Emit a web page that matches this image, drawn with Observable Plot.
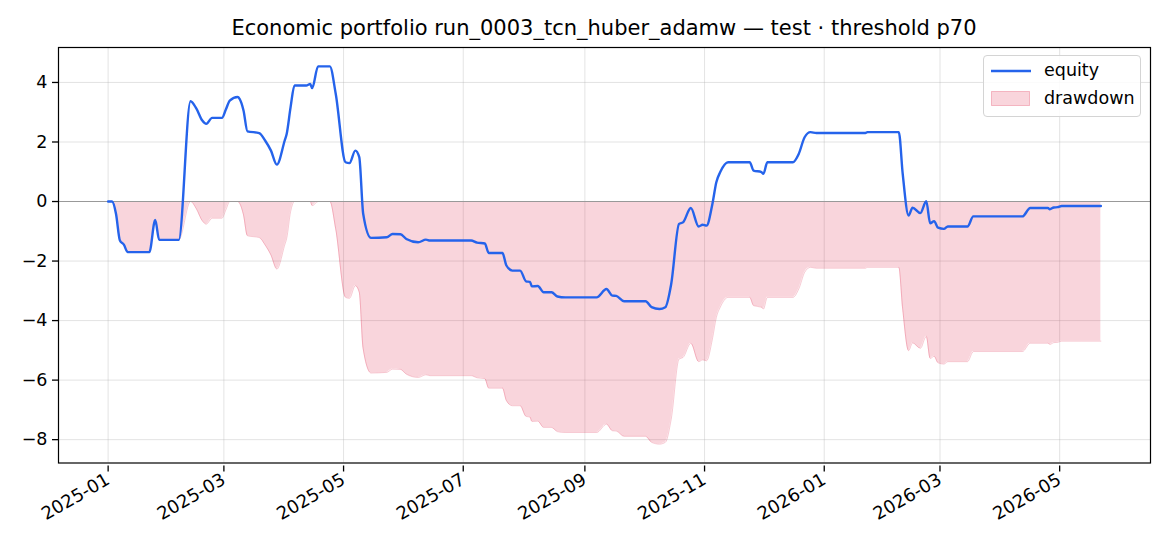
<!DOCTYPE html>
<html>
<head>
<meta charset="utf-8">
<script src="https://cdn.jsdelivr.net/npm/d3@7"></script>
<script src="https://cdn.jsdelivr.net/npm/@observablehq/plot@0.6"></script>
<style>
  html, body { margin: 0; padding: 0; background: #fff; }
  #wrap { position: relative; width: 1170px; height: 546px; font-family: "DejaVu Sans", sans-serif; overflow: hidden; }
  #title { position: absolute; top: 16px; left: 58px; width: 1092px; text-align: center; font-size: 21px; color: #000; white-space: nowrap; }
  #chart { position: absolute; top: 40px; left: 0; }
  #legend { position: absolute; left: 983px; top: 55px; width: 156px; height: 60px; border: 1px solid #d4d4d4; border-radius: 4px; background: rgba(255,255,255,0.85); font-size: 17.5px; }
  #legend .row { position: absolute; left: 7px; display: flex; align-items: center; }
  #legend .lbl { margin-left: 13px; }
</style>
</head>
<body>
<div id="wrap">
  <div id="title">Economic portfolio run_0003_tcn_huber_adamw — test · threshold p70</div>
  <div id="chart"></div>
  <div id="legend">
    <div class="row" style="top:3px"><svg width="40" height="22"><line x1="0" x2="40" y1="12" y2="12" stroke="#2563eb" stroke-width="2.4"/></svg><span class="lbl">equity</span></div>
    <div class="row" style="top:31px"><svg width="40" height="22"><rect x="0.5" y="4.5" width="38" height="14" fill="crimson" fill-opacity="0.18" stroke="crimson" stroke-opacity="0.25"/></svg><span class="lbl">drawdown</span></div>
  </div>
</div>
<script>
const dates = [
"2025-01-01","2025-01-03","2025-01-05","2025-01-07","2025-01-09","2025-01-11","2025-01-22","2025-01-25","2025-01-27","2025-02-06",
"2025-02-12","2025-02-15","2025-02-18","2025-02-20","2025-02-23","2025-02-28","2025-03-02","2025-03-04","2025-03-08","2025-03-09",
"2025-03-11","2025-03-13","2025-03-19","2025-03-22","2025-03-25","2025-03-28","2025-04-01","2025-04-02","2025-04-04","2025-04-06",
"2025-04-12","2025-04-14","2025-04-15","2025-04-18","2025-04-24","2025-04-27","2025-05-02","2025-05-04","2025-05-07","2025-05-09",
"2025-05-11","2025-05-15","2025-05-23","2025-05-26","2025-05-30","2025-06-02","2025-06-08","2025-06-12","2025-06-14","2025-07-05",
"2025-07-08","2025-07-12","2025-07-14","2025-07-21","2025-07-23","2025-07-26","2025-07-30","2025-08-02","2025-08-04","2025-08-05",
"2025-08-08","2025-08-11","2025-08-15","2025-08-18","2025-08-22","2025-09-07","2025-09-12","2025-09-15","2025-09-17","2025-09-21",
"2025-10-02","2025-10-05","2025-10-09","2025-10-12","2025-10-15","2025-10-19","2025-10-21","2025-10-25","2025-10-29","2025-10-31",
"2025-11-02","2025-11-05","2025-11-07","2025-11-09","2025-11-13","2025-11-24","2025-11-26","2025-11-30","2025-12-01","2025-12-03",
"2025-12-16","2025-12-19","2025-12-22","2025-12-25","2025-12-28","2026-01-22","2026-01-23","2026-02-08","2026-02-10","2026-02-13",
"2026-02-15","2026-02-19","2026-02-22","2026-02-24","2026-02-26","2026-02-28","2026-03-03","2026-03-05","2026-03-15","2026-03-18",
"2026-04-12","2026-04-16","2026-04-25","2026-04-26","2026-04-28","2026-04-30","2026-05-02","2026-05-22"];

const equity = [
0, 0, -0.41, -1.31, -1.45, -1.70, -1.70, -0.62, -1.29, -1.29,
3.37, 3.12, 2.72, 2.61, 2.81, 2.81, 3.09, 3.39, 3.51, 3.45,
3.06, 2.36, 2.30, 2.05, 1.71, 1.24, 2.05, 2.27, 3.17, 3.90,
3.90, 3.95, 3.81, 4.54, 4.54, 3.62, 1.32, 1.29, 1.71, 1.49,
-0.41, -1.22, -1.20, -1.09, -1.10, -1.26, -1.37, -1.28, -1.31, -1.31,
-1.38, -1.41, -1.73, -1.73, -2.15, -2.32, -2.32, -2.68, -2.70, -2.85,
-2.84, -3.05, -3.05, -3.19, -3.22, -3.22, -2.94, -3.16, -3.17, -3.35,
-3.35, -3.55, -3.61, -3.55, -2.77, -0.75, -0.70, -0.22, -0.84, -0.78,
-0.81, -0.08, 0.65, 0.99, 1.32, 1.32, 1.04, 0.99, 0.93, 1.32,
1.32, 1.60, 2.16, 2.33, 2.30, 2.30, 2.33, 2.33, 0.93, -0.47,
-0.21, -0.39, 0.01, -0.73, -0.66, -0.88, -0.92, -0.84, -0.84, -0.50,
-0.50, -0.22, -0.22, -0.26, -0.20, -0.19, -0.15, -0.15];

const yTicks = [-8, -6, -4, -2, 0, 2, 4];
const xTickFormat = "%Y-%m";

// table: drawdown = equity minus its running peak
let peak = -Infinity;
const rows = dates.map((d, i) => {
  peak = Math.max(peak, equity[i]);
  return { date: new Date(d + "T00:00:00Z"), equity: equity[i], drawdown: equity[i] - peak };
});

const t0 = rows[0].date, t1 = rows[rows.length - 1].date;
const tspan = t1 - t0;
const vmin = d3.min(rows, r => Math.min(r.equity, r.drawdown));
const vmax = d3.max(rows, r => Math.max(r.equity, r.drawdown));
const vspan = vmax - vmin;

const chart = Plot.plot({
  width: 1170,
  height: 506,
  marginTop: 7,
  marginBottom: 83.5,
  marginLeft: 58,
  marginRight: 20,
  style: { fontFamily: "DejaVu Sans, sans-serif", fontSize: "17.5px", color: "#000", background: "#fff" },
  x: { type: "utc", domain: [new Date(+t0 - 0.05 * tspan), new Date(+t1 + 0.05 * tspan)] },
  y: { domain: [vmin - 0.05 * vspan, vmax + 0.05 * vspan] },
  marks: [
    Plot.gridX({ ticks: d3.utcMonth.every(2), stroke: "#b0b0b0", strokeOpacity: 0.35, strokeWidth: 1 }),
    Plot.gridY(yTicks, { stroke: "#b0b0b0", strokeOpacity: 0.35, strokeWidth: 1 }),
    Plot.areaY(rows, { x: "date", y1: 0, y2: "drawdown", fill: "crimson", fillOpacity: 0.18, curve: "monotone-x" }),
    Plot.lineY(rows, { x: "date", y: "drawdown", stroke: "crimson", strokeOpacity: 0.22, strokeWidth: 1, curve: "monotone-x" }),
    Plot.ruleY([0], { stroke: "#999", strokeWidth: 1.1 }),
    Plot.lineY(rows, { x: "date", y: "equity", stroke: "#2563eb", strokeWidth: 2.4, strokeLinejoin: "round", curve: "monotone-x" }),
    Plot.axisY(yTicks, { tickSize: 6, tickPadding: 5, label: null, strokeWidth: 1.3 }),
    Plot.axisX({ ticks: d3.utcMonth.every(2), tickFormat: d3.utcFormat(xTickFormat), tickRotate: -30, tickSize: 6, tickPadding: 6, dy: 3, fontSize: 18, label: null, strokeWidth: 1.3 }),
    Plot.frame({ stroke: "#000", strokeWidth: 1.2 })
  ]
});
document.getElementById("chart").appendChild(chart);
</script>
</body>
</html>
